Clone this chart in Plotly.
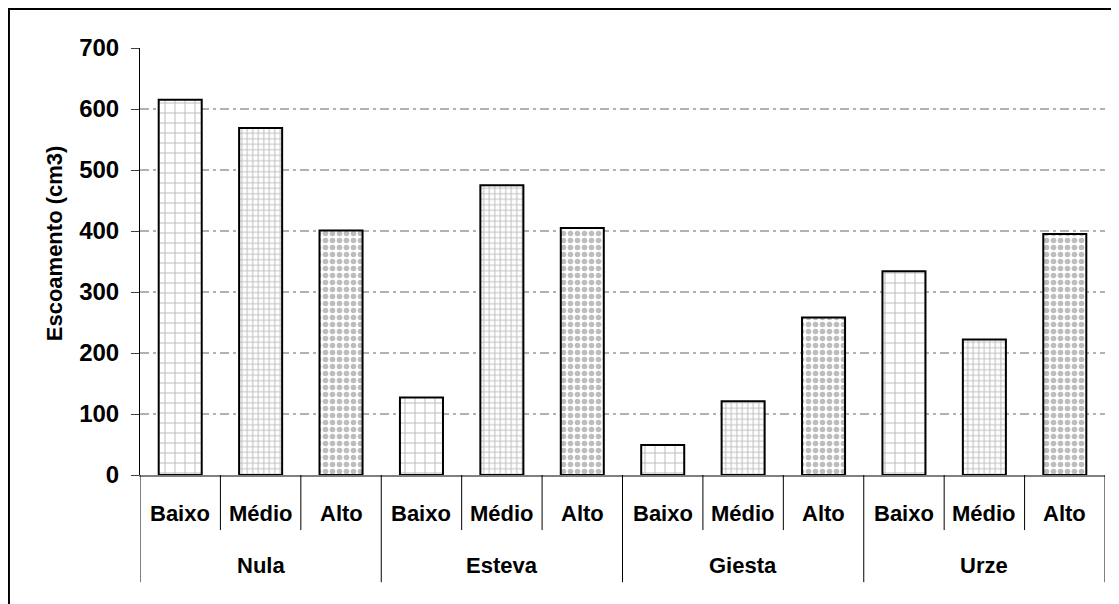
import plotly.graph_objects as go

# ---- data ----
groups = ["Nula", "Esteva", "Giesta", "Urze"]
levels = ["Baixo", "Médio", "Alto"]
nula = [615, 569, 401]
esteva = [127, 475, 405]
giesta = [49, 121, 258]
urze = [334, 222, 395]
y_ticks = [0, 100, 200, 300, 400, 500, 600, 700]
grid_vals = [100, 200, 300, 400, 500, 600]

series = [nula, esteva, giesta, urze]
values = [v for s in series for v in s]
xs = list(range(len(values)))
n_lev = len(levels)

# per-level pattern styles
lev_style = {
    "Baixo": dict(shape="+", size=10, solidity=0.19),
    "Médio": dict(shape="+", size=5.5, solidity=0.33),
    "Alto": dict(shape=".", size=7, solidity=0.5),
}
lev_seq = [levels[i % n_lev] for i in xs]

FONT = dict(family="Liberation Sans, Arial, sans-serif", size=22, color="black", weight="bold")

fig = go.Figure()
fig.add_trace(go.Bar(
    x=xs, y=values, width=0.535,
    marker=dict(
        color="white",
        line=dict(color="black", width=2),
        pattern=dict(
            shape=[lev_style[l]["shape"] for l in lev_seq],
            size=[lev_style[l]["size"] for l in lev_seq],
            solidity=[lev_style[l]["solidity"] for l in lev_seq],
            fgcolor="#bdbdbd", bgcolor="white", fillmode="replace",
        ),
    ),
    hoverinfo="x+y", showlegend=False,
))

shapes = []
for g in grid_vals:
    shapes.append(dict(type="line", xref="paper", yref="y", x0=0, x1=1, y0=g, y1=g,
                       line=dict(color="#999999", width=1.3, dash="9px,4px,3px,4px"), layer="below"))

annotations = []
# sub-category labels and dividers
for i in xs:
    annotations.append(dict(x=i, y=-0.089, xref="x", yref="paper", text=lev_seq[i], showarrow=False,
                            font=FONT, xanchor="center", yanchor="middle"))
    if (i + 1) % n_lev != 0:
        shapes.append(dict(type="line", xref="x", yref="paper", x0=i + 0.5, x1=i + 0.5, y0=0, y1=-0.129,
                           line=dict(color="black", width=1)))
# group labels and dividers
for gi, g in enumerate(groups):
    center = gi * n_lev + (n_lev - 1) / 2
    annotations.append(dict(x=center, y=-0.211, xref="x", yref="paper", text=g, showarrow=False,
                            font=FONT, xanchor="center", yanchor="middle"))
for gi in range(len(groups) + 1):
    xb = gi * n_lev - 0.5
    shapes.append(dict(type="line", xref="x", yref="paper", x0=xb, x1=xb, y0=0, y1=-0.251,
                       line=dict(color="black", width=1)))

# y-axis title
annotations.append(dict(x=-0.089, y=0.543, xref="paper", yref="paper", text="Escoamento (cm3)",
                        textangle=-90, showarrow=False, font=FONT, xanchor="center", yanchor="middle"))

# outer chart border
shapes.append(dict(type="rect", xref="paper", yref="paper", x0=-0.1358, x1=1.1, y0=-0.6, y1=1.0913,
                   line=dict(color="black", width=2), fillcolor="rgba(0,0,0,0)"))

fig.update_layout(
    width=1111, height=596,
    margin=dict(l=132, r=14, t=40, b=129),
    paper_bgcolor="white", plot_bgcolor="white",
    font=FONT,
    shapes=shapes, annotations=annotations,
    bargap=0.465,
    xaxis=dict(range=[-0.5, len(values) - 0.5], showticklabels=False, ticks="", showgrid=False,
               zeroline=False, showline=True, linecolor="#808080", linewidth=1.5, fixedrange=True),
    yaxis=dict(range=[0, 700], tickvals=y_ticks, ticks="outside", ticklen=8, tickcolor="#404040",
               showgrid=False, zeroline=False, showline=True, linecolor="black", linewidth=1,
               tickfont=dict(FONT, size=24), ticklabelstandoff=7, fixedrange=True),
)

fig.write_html("out.html")
